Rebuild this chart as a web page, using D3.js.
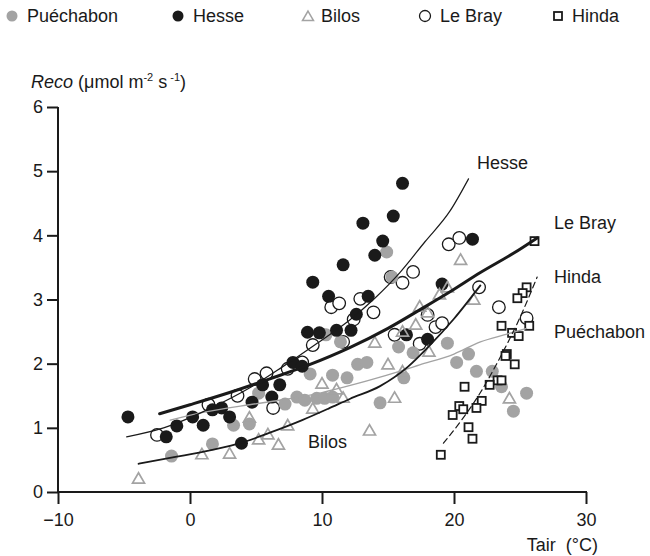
<!DOCTYPE html>
<html>
<head>
<meta charset="utf-8">
<script src="https://cdn.jsdelivr.net/npm/d3@7"></script>
<style>
  html, body { margin: 0; padding: 0; background: #fff; }
  svg text { font-family: "Liberation Sans", Arial, Helvetica, sans-serif; fill: #1a1a1a; }
</style>
</head>
<body>
<svg id="chart" width="650" height="556"></svg>
<script>
// ---------- DATA (Tair °C, Reco µmol m-2 s-1) ----------
const puechabonT = [-1.4, 1.7, 3.3, 4.5, 5.2, 7.2, 8.1, 8.7, 9.6, 10.2, 10.8, 9.1, 10.8, 11.9, 12.7, 13.4, 10.3, 11.4, 14.4, 14.9, 15.3, 15.8, 16.2, 16.9, 19.5, 20.2, 21.1, 21.7, 22.9, 23.6, 24.5, 25.5];
const puechabonR = [0.56, 0.75, 1.04, 1.06, 1.54, 1.37, 1.48, 1.43, 1.46, 1.46, 1.48, 1.84, 1.82, 1.78, 1.99, 2.02, 2.45, 2.34, 1.39, 3.74, 3.35, 2.26, 1.78, 2.17, 2.32, 2.02, 2.15, 1.88, 1.88, 1.64, 1.26, 1.54];

const hesseT = [-4.7, -1.8, -1.0, 0.2, 1.0, 1.7, 2.4, 3.0, 3.9, 4.7, 5.5, 6.2, 6.8, 7.8, 8.5, 8.9, 9.3, 9.8, 10.5, 11.1, 11.6, 12.2, 12.6, 13.1, 13.5, 14.0, 14.6, 15.4, 16.1, 16.4, 18.0, 19.1, 21.4];
const hesseR = [1.17, 0.86, 1.03, 1.17, 1.04, 1.28, 1.31, 1.17, 0.76, 1.40, 1.67, 1.48, 1.67, 2.02, 1.96, 2.49, 3.27, 2.48, 3.05, 2.52, 3.54, 2.52, 2.77, 4.19, 3.05, 3.69, 3.91, 4.30, 4.81, 2.45, 2.38, 3.24, 3.94];

const bilosT = [-3.9, 0.9, 3.0, 4.5, 5.2, 5.9, 6.7, 7.4, 9.3, 10.0, 11.1, 11.6, 13.6, 14.0, 15.0, 16.1, 15.5, 16.1, 17.1, 17.4, 18.0, 18.1, 18.9, 19.5, 20.5, 21.5, 24.2];
const bilosR = [0.20, 0.58, 0.59, 1.15, 0.81, 0.89, 0.73, 1.03, 1.29, 1.68, 1.59, 1.46, 0.95, 2.32, 1.98, 1.87, 1.46, 2.49, 2.60, 2.88, 2.79, 2.18, 3.07, 3.18, 3.61, 2.99, 1.45];

const lebrayT = [-2.5, 1.4, 3.6, 4.9, 5.8, 6.3, 7.4, 8.5, 9.3, 10.7, 11.3, 11.6, 12.4, 12.9, 13.9, 15.2, 16.1, 16.9, 19.6, 20.4, 18.0, 18.6, 19.1, 15.5, 17.4, 21.9, 23.4, 25.5];
const lebrayR = [0.89, 1.36, 1.50, 1.76, 1.85, 1.31, 1.92, 2.02, 2.29, 2.88, 2.94, 2.34, 2.69, 3.01, 2.80, 3.35, 3.26, 3.43, 3.86, 3.96, 2.76, 2.57, 2.63, 2.45, 2.31, 3.19, 2.88, 2.71];

const hindaT = [26.1, 25.5, 25.2, 24.8, 25.7, 23.6, 24.4, 24.9, 24.0, 23.9, 24.6, 23.3, 23.6, 22.7, 20.8, 22.1, 20.4, 20.7, 21.7, 19.9, 21.1, 21.4, 19.0];
const hindaR = [3.91, 3.19, 3.10, 3.02, 2.59, 2.59, 2.48, 2.43, 2.15, 2.12, 1.99, 1.74, 1.74, 1.67, 1.64, 1.42, 1.34, 1.29, 1.31, 1.20, 1.01, 0.83, 0.58];

// fitted curves
const hesseCurveT = [-4.8, -2, 1.5, 4.5, 7, 9.5, 12.1, 14, 15.9, 17.8, 19.7, 21.1];
const hesseCurveR = [0.86, 1.0, 1.30, 1.62, 1.95, 2.3, 2.68, 3.02, 3.42, 3.9, 4.38, 4.88];
const lebrayCurveT = [-2.3, 0, 3, 6, 9, 12.1, 15, 17.5, 19.7, 22, 24.5, 26.3];
const lebrayCurveR = [1.22, 1.36, 1.55, 1.76, 1.98, 2.25, 2.55, 2.85, 3.12, 3.42, 3.72, 3.96];
const hindaCurveT = [19.2, 20.5, 22, 23.5, 25, 26.3];
const hindaCurveR = [0.76, 1.1, 1.55, 2.1, 2.72, 3.35];
const puechabonCurveT = [-1.5, 1, 4.5, 6.8, 10, 12.5, 14.4, 17.4, 20, 22, 24, 25.5];
const puechabonCurveR = [1.12, 1.24, 1.36, 1.43, 1.55, 1.68, 1.79, 1.98, 2.15, 2.34, 2.46, 2.55];
const bilosCurveT = [-3.9, -1, 1.5, 3.8, 6, 8.5, 10.5, 12.1, 14.4, 16.5, 18, 20, 22];
const bilosCurveR = [0.44, 0.55, 0.65, 0.76, 0.92, 1.12, 1.3, 1.45, 1.65, 1.95, 2.25, 2.7, 3.22];

const xTicks = [-10, 0, 10, 20, 30];
const yTicks = [0, 1, 2, 3, 4, 5, 6];
const legendNames = ["Puéchabon", "Hesse", "Bilos", "Le Bray", "Hinda"];

// ---------- DRAW ----------
const svg = d3.select("#chart");
const GRAY = "#a3a3a3", INK = "#1a1a1a";
const FONT = '"Liberation Sans", Arial, sans-serif';
const x = d3.scaleLinear().domain([-10, 30]).range([58, 586]);
const y = d3.scaleLinear().domain([0, 6]).range([492, 107]);
const zip = (a, b) => a.map((v, i) => [v, b[i]]);

// axes
const xAxis = svg.append("g").attr("transform", "translate(0,492)")
  .call(d3.axisBottom(x).tickValues(xTicks).tickSize(12).tickSizeOuter(0).tickPadding(9).tickFormat(d3.format("d")));
const yAxis = svg.append("g").attr("transform", "translate(58,0)")
  .call(d3.axisLeft(y).tickValues(yTicks).tickSize(11).tickSizeOuter(0).tickPadding(4).tickFormat(d3.format("d")));
[xAxis, yAxis].forEach(g => {
  g.selectAll("path, line").attr("stroke", INK).attr("stroke-width", 2);
  g.selectAll("text").attr("font-size", 18).attr("font-family", FONT).attr("fill", INK);
});
yAxis.select(".domain").attr("d", "M0,107V493");
xAxis.select(".domain").attr("d", "M57,0H587");

// axis titles
const yt = svg.append("text").attr("x", 31).attr("y", 88).attr("font-size", 18);
yt.append("tspan").attr("font-style", "italic").text("Reco");
yt.append("tspan").text(" (μmol m");
yt.append("tspan").attr("font-size", 11).attr("dy", -7).text("-2");
yt.append("tspan").attr("dy", 7).text(" s");
yt.append("tspan").attr("font-size", 11).attr("dy", -7).text(" -1");
yt.append("tspan").attr("dy", 7).text(")");
svg.append("text").attr("x", 598).attr("y", 551).attr("text-anchor", "end").attr("font-size", 18)
  .style("white-space", "pre").text("Tair  (°C)");

// symbols
const triPath = (s) => { const h = s * Math.sqrt(3) / 2; return `M0,${-h*0.62}L${s/2},${h*0.38}L${-s/2},${h*0.38}Z`; };

const plot = svg.append("g");
// Le Bray open circles
plot.append("g").selectAll("circle").data(zip(lebrayT, lebrayR)).join("circle")
  .attr("cx", d => x(d[0])).attr("cy", d => y(d[1])).attr("r", 6.3)
  .attr("fill", "#fff").attr("stroke", INK).attr("stroke-width", 1.3);
// Puéchabon gray dots
plot.append("g").selectAll("circle").data(zip(puechabonT, puechabonR)).join("circle")
  .attr("cx", d => x(d[0])).attr("cy", d => y(d[1])).attr("r", 6.5).attr("fill", GRAY);
// Hesse black dots
plot.append("g").selectAll("circle").data(zip(hesseT, hesseR)).join("circle")
  .attr("cx", d => x(d[0])).attr("cy", d => y(d[1])).attr("r", 6.5).attr("fill", INK);
// Bilos triangles
plot.append("g").selectAll("path").data(zip(bilosT, bilosR)).join("path")
  .attr("transform", d => `translate(${x(d[0])},${y(d[1])})`).attr("d", triPath(12))
  .attr("fill", "none").attr("stroke", GRAY).attr("stroke-width", 1.7);
// Hinda squares
plot.append("g").selectAll("rect").data(zip(hindaT, hindaR)).join("rect")
  .attr("x", d => x(d[0]) - 4).attr("y", d => y(d[1]) - 4).attr("width", 8).attr("height", 8)
  .attr("fill", "#fff").attr("stroke", INK).attr("stroke-width", 1.8);

// curves
const line = d3.line().x(d => x(d[0])).y(d => y(d[1])).curve(d3.curveMonotoneX);
const curves = [
  [puechabonCurveT, puechabonCurveR, GRAY, 1.3, null],
  [bilosCurveT, bilosCurveR, INK, 1.8, null],
  [hesseCurveT, hesseCurveR, INK, 1.2, null],
  [lebrayCurveT, lebrayCurveR, INK, 3, null],
  [hindaCurveT, hindaCurveR, INK, 1.2, "6,4"]
];
curves.forEach(([t, r, c, w, dash]) => {
  svg.append("path").datum(zip(t, r)).attr("d", line).attr("fill", "none")
    .attr("stroke", c).attr("stroke-width", w).attr("stroke-linecap", "round")
    .attr("stroke-dasharray", dash);
});

// curve labels
const labels = [["Hesse", 477, 169], ["Le Bray", 554, 229], ["Hinda", 554, 283], ["Puéchabon", 554, 338], ["Bilos", 308, 448]];
labels.forEach(([t, lx, ly]) => svg.append("text").attr("x", lx).attr("y", ly).attr("font-size", 18).text(t));

// legend
const lg = svg.append("g");
const legendPos = [[12, 27], [178, 193], [308, 321], [425, 440], [558, 572]];
legendNames.forEach((n, i) => {
  const [sx, tx] = legendPos[i];
  const cy = 16;
  if (i === 0) lg.append("circle").attr("cx", sx).attr("cy", cy).attr("r", 5.5).attr("fill", GRAY);
  if (i === 1) lg.append("circle").attr("cx", sx).attr("cy", cy).attr("r", 5.5).attr("fill", INK);
  if (i === 2) lg.append("path").attr("transform", `translate(${sx},${cy + 1})`).attr("d", triPath(11))
    .attr("fill", "none").attr("stroke", GRAY).attr("stroke-width", 1.5);
  if (i === 3) lg.append("circle").attr("cx", sx).attr("cy", cy).attr("r", 5.5).attr("fill", "#fff")
    .attr("stroke", INK).attr("stroke-width", 1.3);
  if (i === 4) lg.append("rect").attr("x", sx - 4).attr("y", cy - 4).attr("width", 8).attr("height", 8)
    .attr("fill", "#fff").attr("stroke", INK).attr("stroke-width", 1.8);
  lg.append("text").attr("x", tx).attr("y", cy + 6).attr("font-size", 18).text(n);
});
</script>
</body>
</html>
